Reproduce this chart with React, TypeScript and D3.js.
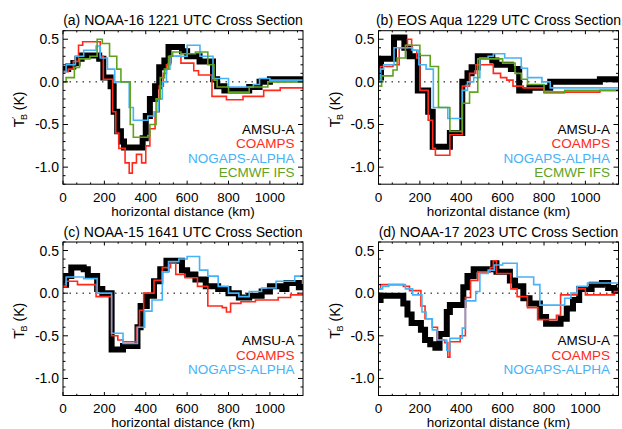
import React from "react";
import * as d3 from "d3";

// ---------- data: [distance km, T'_B K] step breakpoints ----------
const aAMSU = [[0,0.15],[25,0.18],[50,0.22],[70,0.27],[90,0.31],[175,0.27],[195,0.05],[230,-0.05],[245,-0.35],[262,-0.58],[280,-0.7],[295,-0.77],[385,-0.66],[400,-0.4],[420,-0.2],[445,-0.05],[465,0.17],[490,0.25],[510,0.41],[575,0.36],[600,0.3],[660,0.24],[725,0.03],[745,-0.05],[780,-0.1],[900,-0.06],[950,0.0],[1000,0.03],[1160,0.03]];
const aCOAMPS = [[0,0.12],[25,0.15],[50,0.24],[75,0.43],[95,0.47],[180,0.3],[195,0.03],[240,-0.35],[255,-0.6],[270,-0.78],[300,-0.95],[320,-1.07],[335,-0.95],[355,-0.85],[380,-0.95],[400,-0.75],[420,-0.55],[445,-0.35],[465,-0.05],[485,0.1],[500,0.2],[520,0.3],[570,0.22],[632,0.13],[655,0.08],[720,-0.17],[790,-0.21],[870,-0.17],[970,-0.1],[1050,-0.07],[1160,-0.07]];
const aNOGAPS = [[0,0.12],[15,0.2],[60,0.3],[100,0.37],[160,0.42],[180,0.28],[215,0.15],[250,0.0],[320,-0.3],[340,-0.45],[410,-0.4],[440,-0.35],[460,-0.2],[480,0.0],[500,0.15],[517,0.3],[600,0.43],[662,0.3],[725,0.04],[800,-0.06],[920,-0.03],[950,0.04],[1000,0.02],[1160,0.0]];
const aECMWF = [[0,0.0],[15,0.05],[55,0.17],[80,0.27],[130,0.3],[165,0.5],[190,0.45],[225,0.3],[260,0.15],[280,0.0],[325,-0.5],[340,-0.65],[410,-0.63],[420,-0.5],[450,-0.2],[470,0.05],[490,0.15],[510,0.3],[530,0.35],[570,0.33],[640,0.35],[700,0.2],[730,0.02],[745,-0.06],[800,-0.12],[900,-0.06],[990,0.0],[1160,0.0]];

const bAMSU = [[0,0.05],[12,0.27],[75,0.52],[125,0.4],[150,0.3],[190,-0.1],[240,-0.35],[262,-0.76],[345,-0.6],[405,0.0],[430,0.1],[450,0.17],[480,0.3],[550,0.25],[570,0.2],[640,0.15],[680,-0.1],[730,-0.07],[830,0.0],[1070,0.03],[1160,0.03]];
const bCOAMPS = [[0,0.0],[10,0.18],[70,0.2],[100,0.4],[140,0.5],[160,0.37],[185,0.28],[200,-0.1],[240,-0.45],[262,-0.78],[275,-0.86],[345,-0.62],[405,-0.05],[440,0.1],[470,0.2],[530,0.2],[555,0.1],[590,0.05],[620,0.02],[650,-0.05],[700,-0.07],[800,-0.12],[1070,-0.1],[1160,-0.1]];
const bNOGAPS = [[0,0.0],[10,0.15],[25,0.2],[75,0.4],[130,0.4],[165,0.37],[195,0.2],[230,0.15],[265,-0.3],[335,-0.43],[405,-0.1],[430,0.0],[460,0.05],[490,0.28],[530,0.3],[555,0.33],[610,0.28],[690,0.16],[720,0.05],[790,0.0],[830,-0.07],[1160,-0.07]];
const bECMWF = [[0,-0.05],[15,0.07],[70,0.14],[90,0.28],[130,0.43],[200,0.31],[250,0.18],[290,-0.3],[345,-0.58],[405,-0.25],[440,-0.12],[480,0.27],[600,0.22],[660,0.1],[690,0.03],[720,-0.03],[800,-0.13],[900,-0.1],[1160,-0.1]];

const cAMSU = [[0,0.1],[15,0.2],[40,0.3],[100,0.28],[120,0.2],[165,0.05],[190,0.0],[235,-0.66],[290,-0.62],[360,-0.4],[375,-0.15],[405,-0.03],[440,0.14],[470,0.28],[500,0.38],[575,0.27],[600,0.22],[640,0.16],[690,0.08],[750,0.05],[800,0.0],[850,-0.05],[900,-0.03],[960,0.02],[1000,0.08],[1060,0.05],[1080,0.12],[1140,0.07],[1160,0.07]];
const cCOAMPS = [[0,0.08],[15,0.14],[70,0.1],[160,-0.04],[235,-0.5],[265,-0.55],[290,-0.57],[355,-0.4],[370,-0.2],[390,0.0],[440,0.15],[480,0.3],[520,0.35],[545,0.22],[590,0.18],[650,0.08],[700,-0.15],[770,-0.17],[790,-0.22],[810,-0.12],[860,-0.1],[930,-0.08],[1040,-0.05],[1100,-0.02],[1160,-0.01]];
const cNOGAPS = [[0,0.1],[15,0.19],[100,0.17],[165,0.0],[235,-0.47],[290,-0.59],[360,-0.4],[395,-0.21],[430,-0.08],[480,0.25],[510,0.37],[560,0.4],[600,0.43],[660,0.27],[700,0.2],[750,0.08],[800,0.0],[850,-0.04],[900,0.02],[960,0.06],[1030,0.14],[1120,0.2],[1160,0.2]];

const dAMSU = [[0,-0.08],[10,-0.03],[120,-0.12],[140,-0.25],[160,-0.35],[205,-0.43],[225,-0.55],[250,-0.6],[275,-0.64],[295,-0.48],[330,-0.22],[345,-0.14],[410,0.07],[430,0.2],[460,0.28],[555,0.35],[570,0.25],[635,0.15],[660,0.08],[700,-0.06],[730,-0.12],[780,-0.28],[810,-0.36],[880,-0.3],[910,-0.18],[940,-0.08],[970,0.05],[1030,0.1],[1080,0.12],[1110,0.06],[1140,0.03],[1160,0.03]];
const dCOAMPS = [[0,0.05],[10,0.1],[120,0.08],[150,0.03],[205,-0.15],[225,-0.3],[260,-0.4],[285,-0.55],[320,-0.58],[335,-0.75],[345,-0.57],[395,-0.5],[420,-0.05],[445,0.15],[480,0.25],[540,0.3],[555,0.38],[570,0.23],[640,0.05],[670,-0.04],[720,-0.17],[770,-0.31],[860,-0.26],[880,-0.02],[960,0.05],[1000,-0.02],[1100,-0.02],[1140,0.02],[1160,0.02]];
const dNOGAPS = [[0,0.05],[20,0.08],[50,0.1],[130,0.05],[165,-0.02],[210,-0.22],[230,-0.3],[260,-0.43],[285,-0.55],[330,-0.67],[345,-0.53],[405,-0.41],[420,-0.09],[470,0.02],[490,0.23],[530,0.27],[560,0.33],[600,0.35],[670,0.19],[750,0.1],[780,-0.14],[900,-0.06],[930,0.0],[960,0.08],[1010,0.12],[1160,0.12]];

const titles = [
  "(a) NOAA-16 1221 UTC Cross Section",
  "(b) EOS Aqua 1229 UTC Cross Section",
  "(c) NOAA-15 1641 UTC Cross Section",
  "(d) NOAA-17 2023 UTC Cross Section",
];
const seriesNames = ["AMSU-A", "COAMPS", "NOGAPS-ALPHA", "ECMWF IFS"];
const seriesColors = ["#000000", "#ff2a1a", "#45b3f7", "#5fa31c"];
const seriesWidths = [6, 1.6, 1.6, 1.6];
const panelData = [
  [aAMSU, aCOAMPS, aNOGAPS, aECMWF],
  [bAMSU, bCOAMPS, bNOGAPS, bECMWF],
  [cAMSU, cCOAMPS, cNOGAPS],
  [dAMSU, dCOAMPS, dNOGAPS],
];
const xMajor = [0, 200, 400, 600, 800, 1000];
const yMajor = [0.5, 0.0, -0.5, -1.0];
const xDomain = [0, 1160];
const yDomain = [-1.2, 0.6];

const W = 622, H = 429;
const PW = 240, PH = 153.5;
const origins = [[63, 30.7], [378.5, 30.7], [63, 242], [378.5, 242]];
const FONT = "'Liberation Sans', Arial, Helvetica, sans-serif";

function Panel({ idx }: { idx: number }) {
  const [ox, oy] = origins[idx];
  const x = d3.scaleLinear().domain(xDomain).range([0, PW]);
  const y = d3.scaleLinear().domain(yDomain).range([PH, 0]);
  const line = d3.line<number[]>().x(d => x(d[0])).y(d => y(d[1])).curve(d3.curveStepAfter);
  const xMinor = d3.range(0, 1160.01, 200 / 3).filter(v => !xMajor.some(m => Math.abs(m - v) < 1e-6));
  const yMinor = d3.range(-1.2, 0.6001, 0.1).filter(v => !yMajor.some(m => Math.abs(m - v) < 1e-6));
  const xt = 3.5, yt = 5;
  const series = panelData[idx];
  const clipId = `clip${idx}`;
  return (
    <g transform={`translate(${ox},${oy})`}>
      <defs>
        <clipPath id={clipId}><rect x={0} y={0} width={PW} height={PH} /></clipPath>
      </defs>
      <text x={PW / 2} y={-5.5} textAnchor="middle" fontSize={14} fontFamily={FONT} fill="#000">{titles[idx]}</text>
      <g clipPath={`url(#${clipId})`}>
        <line x1={x(0)} x2={x(1160)} y1={y(0)} y2={y(0)} stroke="#000" strokeWidth={1} strokeDasharray="1.5,5" />
        {series.map((s, i) => (
          <path key={i} d={line(s as number[][]) || ""} fill="none" stroke={seriesColors[i]} strokeWidth={seriesWidths[i]} strokeLinejoin="miter" strokeLinecap="butt" />
        ))}
      </g>
      <rect x={0} y={0} width={PW} height={PH} fill="none" stroke="#000" strokeWidth={1} />
      {xMajor.map(v => (
        <g key={"xm" + v}>
          <line x1={x(v)} x2={x(v)} y1={PH} y2={PH - xt} stroke="#000" />
          <line x1={x(v)} x2={x(v)} y1={0} y2={xt} stroke="#000" />
          <text x={x(v)} y={PH + 17.5} textAnchor="middle" fontSize={13.5} fontFamily={FONT}>{v}</text>
        </g>
      ))}
      {xMinor.map((v, i) => (
        <g key={"xn" + i}>
          <line x1={x(v)} x2={x(v)} y1={PH} y2={PH - xt / 2} stroke="#000" />
          <line x1={x(v)} x2={x(v)} y1={0} y2={xt / 2} stroke="#000" />
        </g>
      ))}
      {yMajor.map(v => (
        <g key={"ym" + v}>
          <line x1={0} x2={yt} y1={y(v)} y2={y(v)} stroke="#000" />
          <line x1={PW} x2={PW - yt} y1={y(v)} y2={y(v)} stroke="#000" />
          <text x={-4} y={y(v) + 5} textAnchor="end" fontSize={14} fontFamily={FONT}>{v.toFixed(1)}</text>
        </g>
      ))}
      {yMinor.map((v, i) => (
        <g key={"yn" + i}>
          <line x1={0} x2={yt / 2} y1={y(v)} y2={y(v)} stroke="#000" />
          <line x1={PW} x2={PW - yt / 2} y1={y(v)} y2={y(v)} stroke="#000" />
        </g>
      ))}
      <text x={PW / 2} y={PH + 31.5} textAnchor="middle" fontSize={13.5} fontFamily={FONT}>horizontal distance (km)</text>
      <g transform={`translate(${-39},${PH / 2 + 2}) rotate(-90)`}>
        <text x={0} y={0} textAnchor="middle" fontSize={14} fontFamily={FONT}>
          T<tspan fontSize={9} dy={-6}>′</tspan><tspan fontSize={9} dx={-3} dy={9}>B</tspan><tspan dy={-3}> (K)</tspan>
        </text>
      </g>
      {series.map((_, i) => (
        <text key={"lg" + i} x={PW - 8.5} y={103 + i * 14.5} textAnchor="end" fontSize={13.5} fontFamily={FONT} fill={seriesColors[i]}>{seriesNames[i]}</text>
      ))}
    </g>
  );
}

export default function App() {
  return (
    <svg width={W} height={H} viewBox={`0 0 ${W} ${H}`} style={{ position: "absolute", left: 0, top: 0, background: "#fff" }}>
      <rect x={0} y={0} width={W} height={H} fill="#fff" />
      {[0, 1, 2, 3].map(i => <Panel key={i} idx={i} />)}
    </svg>
  );
}
